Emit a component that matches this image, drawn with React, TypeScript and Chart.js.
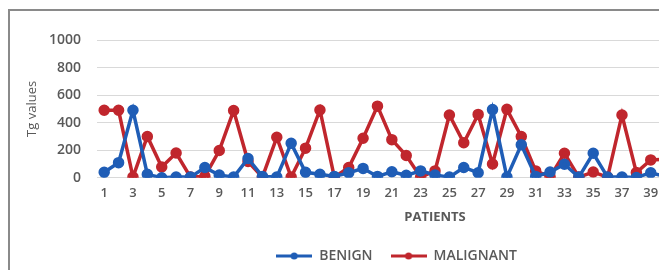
import React, { useEffect, useRef } from "react";
import { Chart, registerables } from "chart.js";

Chart.register(...registerables);

const patients = [
  "1", "2", "3", "4", "5", "6", "7", "8", "9", "10",
  "11", "12", "13", "14", "15", "16", "17", "18", "19", "20",
  "21", "22", "23", "24", "25", "26", "27", "28", "29", "30",
  "31", "32", "33", "34", "35", "36", "37", "38", "39", "40",
  "41", "42", "43", "44", "45", "46", "47",
];

const benign = [
  40, 110, 490, 25, 0, 5, 5, 75, 20, 5,
  140, 10, 5, 250, 40, 25, 10, 37, 68, 10,
  44, 18, 50, 20, 5, 75, 37, 495, 5, 240,
  10, 42, 98, 5, 178, 5, 5, 2, 37, 10,
];

const malignant = [
  490, 490, 5, 300, 78, 180, 5, 10, 198, 488,
  118, 5, 294, 5, 215, 492, 5, 75, 287, 520,
  277, 162, 5, 50, 456, 254, 460, 100, 497, 300,
  50, 7, 178, 5, 42, 5, 456, 38, 130, 135,
];

const yTicks = [0, 200, 400, 600, 800, 1000];

const BLUE = "#1f5db6";
const RED = "#c0262d";
const TEXT = "#595959";
const FONT = "'Open Sans', sans-serif";

function legendImage(color: string): HTMLCanvasElement {
  const c = document.createElement("canvas");
  c.width = 36;
  c.height = 10;
  const ctx = c.getContext("2d")!;
  ctx.strokeStyle = color;
  ctx.lineWidth = 3;
  ctx.beginPath();
  ctx.moveTo(0, 5);
  ctx.lineTo(36, 5);
  ctx.stroke();
  ctx.fillStyle = color;
  ctx.beginPath();
  ctx.arc(18, 5, 3.5, 0, Math.PI * 2);
  ctx.fill();
  return c;
}

export default function App() {
  const ref = useRef<HTMLCanvasElement | null>(null);

  useEffect(() => {
    if (!ref.current) return;
    const imgs = [legendImage(BLUE), legendImage(RED)];
    const chart = new Chart(ref.current, {
      type: "line",
      data: {
        labels: patients,
        datasets: [
          {
            label: "BENIGN",
            data: benign,
            borderColor: BLUE,
            backgroundColor: BLUE,
            pointBackgroundColor: BLUE,
            pointBorderColor: BLUE,
            borderWidth: 3.5,
            pointRadius: 4,
            tension: 0,
          },
          {
            label: "MALIGNANT",
            data: malignant,
            borderColor: RED,
            backgroundColor: RED,
            pointBackgroundColor: RED,
            pointBorderColor: RED,
            borderWidth: 3.5,
            pointRadius: 4,
            tension: 0,
          },
        ],
      },
      options: {
        responsive: false,
        animation: false,
        layout: { padding: { left: 20, top: 40, right: 21, bottom: 4 } },
        scales: {
          x: {
            offset: true,
            grid: { display: false, drawTicks: false },
            border: { display: false },
            ticks: {
              autoSkip: false,
              maxRotation: 0,
              minRotation: 0,
              padding: 8,
              color: TEXT,
              font: { family: FONT, size: 13, weight: "600" },
              callback: (_v: any, i: number) => (i % 2 === 0 ? patients[i] : ""),
            },
            title: {
              display: true,
              text: "PATIENTS",
              color: TEXT,
              font: { family: FONT, size: 13, weight: "bold" },
              padding: { top: 0, bottom: 6 },
            },
          },
          y: {
            min: 0,
            max: 1000,
            afterFit: (s: any) => {
              s.width = 77;
            },
            afterBuildTicks: (s: any) => {
              s.ticks = yTicks.map((v) => ({ value: v }));
            },
            grid: { color: "#d9d9d9", lineWidth: 1, drawTicks: false },
            border: { display: false },
            ticks: {
              padding: 16,
              color: TEXT,
              font: { family: FONT, size: 14, weight: "600" },
              callback: (v: any) => String(v),
            },
            title: {
              display: true,
              text: "Tg values",
              color: TEXT,
              font: { family: FONT, size: 13 },
              padding: { top: 4, bottom: 4 },
            },
          },
        },
        plugins: {
          tooltip: { enabled: false },
          legend: {
            position: "bottom",
            labels: {
              usePointStyle: true,
              pointStyleWidth: 36,
              padding: 18,
              color: TEXT,
              font: { family: FONT, size: 14, weight: "600" },
              generateLabels: (ch: any) => {
                const base = (Chart.defaults.plugins.legend.labels as any).generateLabels(ch);
                return base.map((it: any, i: number) => ({ ...it, pointStyle: imgs[i] }));
              },
            },
          },
        },
      },
    } as any);
    return () => chart.destroy();
  }, []);

  return (
    <div
      style={{
        position: "fixed",
        left: 0,
        top: 0,
        width: 659,
        height: 270,
        overflow: "hidden",
        background: "#fff",
      }}
    >
      <div
        style={{
          position: "absolute",
          left: 8,
          top: 9,
          width: 900,
          height: 400,
          border: "2px solid #8a8a8a",
          boxSizing: "border-box",
        }}
      />
      <canvas
        ref={ref}
        width={794}
        height={277}
        style={{ position: "absolute", left: 0, top: 0, width: 794, height: 277 }}
      />
    </div>
  );
}
